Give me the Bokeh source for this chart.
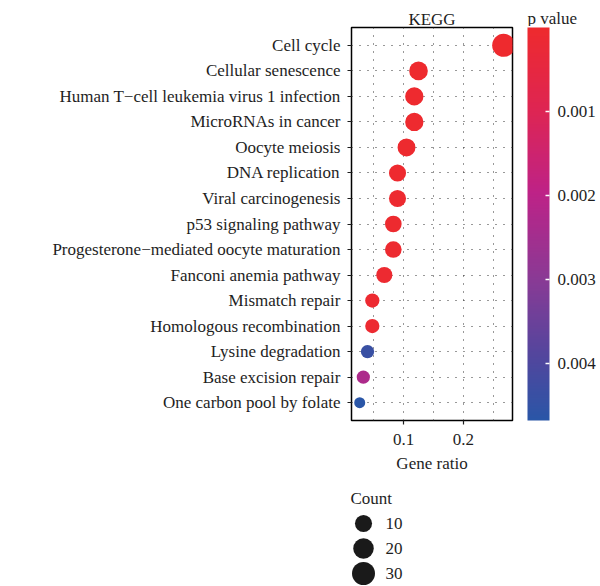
import numpy as np
from bokeh.plotting import figure
from bokeh.models import (ColumnDataSource, FactorRange, Range1d, FixedTicker, LinearColorMapper,
                          ColorBar, Title, AllLabels)
from bokeh.layouts import column
from bokeh.embed import file_html
from bokeh.resources import INLINE
from bokeh.core.properties import value

# ---------------- data ----------------
pathways = ["Cell cycle", "Cellular senescence", "Human T\u2212cell leukemia virus 1 infection",
            "MicroRNAs in cancer", "Oocyte meiosis", "DNA replication", "Viral carcinogenesis",
            "p53 signaling pathway", "Progesterone\u2212mediated oocyte maturation",
            "Fanconi anemia pathway", "Mismatch repair", "Homologous recombination",
            "Lysine degradation", "Base excision repair", "One carbon pool by folate"]
gene_ratio = [0.267, 0.125, 0.118, 0.118, 0.105, 0.090, 0.090, 0.083, 0.083, 0.068,
              0.048, 0.048, 0.040, 0.033, 0.027]
counts = [30, 14, 13, 13, 12, 10, 10, 9, 9, 8, 5, 5, 4, 4, 3]
p_values = [4e-6, 2e-5, 3e-5, 3e-5, 5e-5, 4e-5, 6e-5, 5e-5, 6e-5, 8e-5,
            9e-5, 1e-4, 0.0044, 0.0023, 0.00468]
x_ticks = [0.1, 0.2]
x_grid = [0.05, 0.10, 0.15, 0.20, 0.25]
p_ticks = [0.001, 0.002, 0.003, 0.004]
legend_counts = [10, 20, 30]
panel_title = "KEGG"
color_title = "p value"
size_title = "Count"

SERIF = "Liberation Serif"
TXT = "#1e1e1e"

# colour stops from low p (top, red) to high p (bottom, blue)
stops_pos = [0.0, 0.21, 0.42, 0.64, 0.85, 1.0]
stops_col = ["#EE2A2E", "#DE2553", "#BE2287", "#8A3A95", "#4F479E", "#2A56A7"]

def hex2rgb(h):
    return [int(h[i:i + 2], 16) for i in (1, 3, 5)]

rgb = np.array([hex2rgb(c) for c in stops_col], dtype=float)
t = np.linspace(0, 1, 256)
pal_red_to_blue = ["#%02x%02x%02x" % tuple(int(round(np.interp(tt, stops_pos, rgb[:, k]))) for k in range(3))
                   for tt in t]
palette = pal_red_to_blue[::-1]  # mapped on -p: low (-max p) blue -> high red

cmin, cmax = min(counts), max(counts)
def diam(c):
    return 11 + 12 * np.sqrt((np.asarray(c, float) - cmin) / (cmax - cmin))

src = ColumnDataSource(dict(
    pathway=pathways, ratio=gene_ratio, count=counts,
    neg_p=[-v for v in p_values], size=list(diam(counts)),
))
mapper = LinearColorMapper(palette=palette, low=-max(p_values), high=-min(p_values))

# ---------------- layout constants ----------------
W = 600
FRAME_L, FRAME_W, FRAME_H = 351, 161, 393
H_HEAD, TOP_GAP, BOT = 26, 1, 60
H_MAIN = TOP_GAP + FRAME_H + BOT
H_LEG = 586 - H_HEAD - H_MAIN
CB_GAP, CB_W = 12, 22

def canvas_fig(h):
    f = figure(width=W, height=h, output_backend="svg", toolbar_location=None,
               x_range=Range1d(0, W), y_range=Range1d(h, 0),
               x_axis_type=None, y_axis_type=None,
               min_border_left=0, min_border_right=0, min_border_top=0, min_border_bottom=0)
    f.frame_align = False
    f.outline_line_color = None
    f.grid.visible = False
    return f

# ---------------- header (strip label + colour-bar title) ----------------
head = canvas_fig(H_HEAD)
head.text(x=[FRAME_L + FRAME_W / 2], y=[19], text=[panel_title], text_font=value(SERIF),
          text_font_size="17px", text_color=TXT, text_align="center", text_baseline="alphabetic")
head.text(x=[FRAME_L + FRAME_W + CB_GAP + 3], y=[18], text=[color_title], text_font=value(SERIF),
          text_font_size="17px", text_color=TXT, text_align="left", text_baseline="alphabetic")

# ---------------- main dot plot ----------------
p = figure(width=W, height=H_MAIN, output_backend="svg", toolbar_location=None,
           x_range=Range1d(0.0133, 0.2817),
           y_range=FactorRange(factors=pathways[::-1], range_padding=0.2, range_padding_units="absolute"),
           min_border_left=FRAME_L, min_border_right=W - FRAME_L - FRAME_W,
           min_border_top=TOP_GAP, min_border_bottom=BOT)
p.frame_align = False
p.background_fill_color = "white"
p.border_fill_color = "white"
p.outline_line_color = "black"
p.outline_line_width = 1.5

p.scatter("ratio", "pathway", source=src, size="size",
          fill_color={"field": "neg_p", "transform": mapper}, line_color=None)

for ax in (p.xaxis[0], p.yaxis[0]):
    ax.axis_line_color = None
    ax.major_tick_out = 4
    ax.major_tick_in = 0
    ax.minor_tick_out = 0
    ax.minor_tick_in = 0
    ax.major_tick_line_color = TXT
    ax.major_tick_line_width = 1.2
    ax.major_label_text_font = SERIF
    ax.major_label_text_font_size = "17px"
    ax.major_label_text_color = TXT
p.xaxis.ticker = FixedTicker(ticks=x_ticks)
p.xaxis.major_label_standoff = 9
p.xaxis.axis_label = "Gene ratio"
p.xaxis.axis_label_text_font = SERIF
p.xaxis.axis_label_text_font_size = "17px"
p.xaxis.axis_label_text_font_style = "normal"
p.xaxis.axis_label_text_color = TXT
p.xaxis.axis_label_standoff = 6
p.yaxis.major_label_standoff = 7

p.xgrid.ticker = FixedTicker(ticks=x_grid)
for g in (p.xgrid[0], p.ygrid[0]):
    g.grid_line_color = "#333333"
    g.grid_line_dash = "1 7"
    g.grid_line_width = 1

# spacer between frame and colour bar
p.add_layout(Title(text=" ", text_font_size="1px", standoff=CB_GAP), "right")

cb = ColorBar(color_mapper=mapper, width=CB_W, height=FRAME_H, padding=0, margin=0,
              location="top_left",
              ticker=FixedTicker(ticks=[-v for v in p_ticks]),
              major_label_overrides={-v: "%.3f" % v for v in p_ticks},
              major_label_policy=AllLabels(),
              major_label_text_font=SERIF, major_label_text_font_size="17px",
              major_label_text_color=TXT, label_standoff=8,
              major_tick_line_color="white", major_tick_line_width=1.5,
              major_tick_in=4, major_tick_out=0, minor_tick_line_color=None,
              bar_line_color=None, border_line_color=None, background_fill_color=None)
p.add_layout(cb, "right")

# ---------------- size legend ----------------
leg = canvas_fig(H_LEG)
n = len(legend_counts)
leg_y = [43 + 25 * i for i in range(n)]
lsrc = ColumnDataSource(dict(x=[363] * n, y=leg_y, size=list(diam(legend_counts)),
                             lx=[385] * n, label=[str(c) for c in legend_counts]))
leg.scatter("x", "y", source=lsrc, size="size", fill_color="#1a1a1a", line_color=None)
leg.text("lx", "y", text="label", source=lsrc, text_font=value(SERIF), text_font_size="17px",
         text_color=TXT, text_baseline="middle", text_align="left")
leg.text(x=[350], y=[18], text=[size_title], text_font=value(SERIF),
         text_font_size="17px", text_color=TXT, text_baseline="middle", text_align="left")

layout = column(head, p, leg, spacing=0)
open("out.html", "w").write(file_html(layout, INLINE))
